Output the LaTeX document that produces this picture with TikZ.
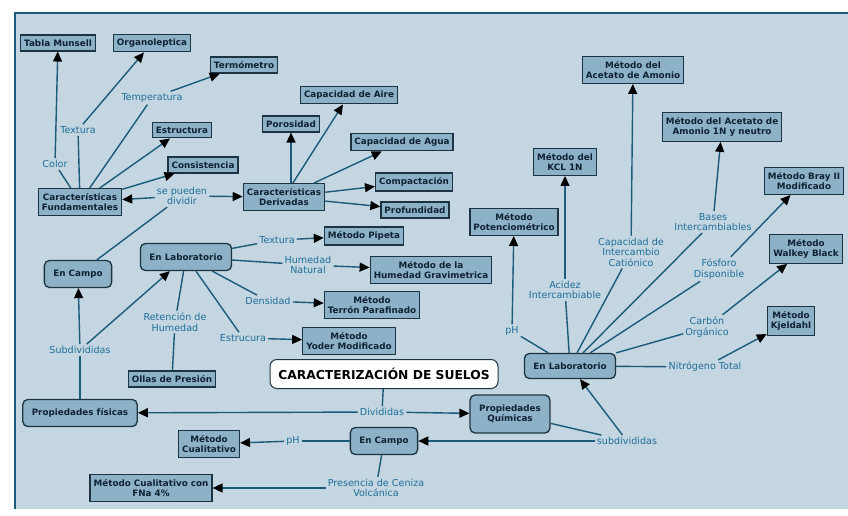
\documentclass[tikz,border=0pt]{standalone}
\usepackage{fontspec}
\setmainfont{DejaVu Sans}
\usetikzlibrary{arrows.meta}
\definecolor{fondo}{HTML}{C4D6E1}
\definecolor{cajafill}{HTML}{8DB1C6}
\definecolor{borde}{HTML}{1C3442}
\definecolor{enlace}{HTML}{1F6E98}
\definecolor{linea}{HTML}{1B5A78}
\definecolor{textocaja}{HTML}{0F2233}
\begin{document}
\begin{tikzpicture}[x=1pt, y=-1pt]
      \tikzstyle{every node}=[inner sep=2pt, align=center, text=enlace,
        font=\fontsize{9.6}{10.5}\selectfont]
      \tikzstyle{caja}=[draw=borde, line width=1.3pt, fill=cajafill, text=textocaja,
        inner xsep=3.5pt, inner ysep=4.5pt, font=\fontsize{8.8}{10.5}\selectfont\bfseries]
      \tikzstyle{redonda}=[caja, rounded corners=5pt, minimum height=27pt, inner xsep=9pt]
      \tikzstyle{con}=[draw=linea, line width=1.4pt]
      \tikzstyle{flecha}=[con, -{Triangle[length=10pt, width=9pt, color=black]}]

      % fondo
      \useasboundingbox (0,0) rectangle (848,516);
      \fill[white] (0,0) rectangle (848,516);
      \fill[fondo] (15,13) rectangle (848,509);
      \draw[linea, line width=2pt] (15,509) -- (15,13) -- (848,13);

      % caracteristicas fundamentales
      \path (58,43) node[caja] (munsell) {Tabla Munsell};
      \path (152,43) node[caja] (organo) {Organoleptica};
      \path (244,65) node[caja] (termo) {Termómetro};
      \path (182,130) node[caja] (estruc) {Estructura};
      \path (203,165) node[caja] (consis) {Consistencia};
      \path (80,202) node[caja] (fund) {Características\\Fundamentales};
      \path (55,164) node (color) {Color};
      \path (78,130) node (textura) {Textura};
      \path (152,98) node (temp) {Temperatura};
      \path (182,196) node (dividir) {se pueden\\dividir};

      % caracteristicas derivadas
      \path (284,197) node[caja] (deriv) {Características\\Derivadas};
      \path (291,124) node[caja] (poro) {Porosidad};
      \path (349,95) node[caja] (aire) {Capacidad de Aire};
      \path (402,142) node[caja] (agua) {Capacidad de Agua};
      \path (414,182) node[caja] (compac) {Compactación};
      \path (415,210) node[caja] (prof) {Profundidad};

      % propiedades fisicas
      \path (78,274) node[redonda] (campoA) {En Campo};
      \path (186,257) node[redonda] (labA) {En Laboratorio};
      \path (80,350) node (subdA) {Subdivididas};
      \path (175,322) node (reten) {Retención de\\Humedad};
      \path (172,379) node[caja] (ollas) {Ollas de Presión};
      \path (277,240) node (texB) {Textura};
      \path (364,236) node[caja] (pipeta) {Método Pipeta};
      \path (308,265) node (humnat) {Humedad\\Natural};
      \path (431,270) node[caja] (gravi) {Método de la\\Humedad Gravimetrica};
      \path (268,301) node (dens) {Densidad};
      \path (372,305) node[caja] (terron) {Método\\Terrón Parafinado};
      \path (243,338) node (estrucB) {Estrucura};
      \path (349,341) node[caja] (yoder) {Método\\Yoder Modificado};

      % centro
      \path (384,374) node[draw=borde, line width=1pt, fill=white, rounded corners=7pt,
        text=black, minimum height=29pt, minimum width=228pt, inner xsep=5pt,
        font=\fontsize{12.3}{14}\selectfont\bfseries] (titulo) {CARACTERIZACIÓN DE SUELOS};
      \path (80,413) node[redonda] (fisicas) {Propiedades físicas};
      \path (382,412) node (divid) {Divididas};
      \path (510,414) node[redonda, minimum height=38pt] (quimicas) {Propiedades\\Químicas};
      \path (627,441) node (subdB) {subdivididas};
      \path (384,441) node[redonda] (campoB) {En Campo};
      \path (293,441) node (phB) {pH};
      \path (209,444) node[caja] (cualit) {Método\\Cualitativo};
      \path (376,488) node (ceniza) {Presencia de Ceniza\\Volcánica};
      \path (151,488) node[caja] (fna) {Método Cualitativo con\\FNa 4\%};

      % propiedades quimicas
      \path (633,70) node[caja] (acetato) {Método del\\Acetato de Amonio};
      \path (722,127) node[caja] (neutro) {Método del Acetato de\\Amonio 1N y neutro};
      \path (565,162) node[caja] (kcl) {Método del\\KCL 1N};
      \path (804,181) node[caja] (bray) {Método Bray II\\Modificado};
      \path (514,222) node[caja] (potenc) {Método\\Potenciométrico};
      \path (806,249) node[caja] (walkey) {Método\\Walkey Black};
      \path (791,321) node[caja] (kjeldahl) {Método\\Kjeldahl};
      \path (570,366) node[redonda, minimum height=25pt] (labB) {En Laboratorio};
      \path (512,331) node (phC) {pH};
      \path (565,290) node (acidez) {Acidez\\Intercambiable};
      \path (631,252) node (cic) {Capacidad de\\Intercambio\\Catiónico};
      \path (713,222) node (bases) {Bases\\Intercambiables};
      \path (719,269) node (fosforo) {Fósforo\\Disponible};
      \path (707,327) node (carbon) {Carbón\\Orgánico};
      \path (705,367) node (nitro) {Nitrógeno Total};

      % enlaces con etiqueta
      \foreach \de/\por/\a in {fund/color/munsell, fund/textura/organo, fund/temp/termo,
        labA/texB/pipeta, labA/humnat/gravi, labA/dens/terron, labA/estrucB/yoder,
        campoB/phB/cualit, campoB/ceniza/fna, labB/phC/potenc, labB/acidez/kcl,
        labB/cic/acetato, labB/bases/neutro, labB/fosforo/bray, labB/carbon/walkey,
        labB/nitro/kjeldahl}
      {
        \draw [con] (\de) -- (\por);
        \draw [flecha] (\por) -- (\a);
      }

      % flechas directas
      \foreach \de/\a in {fund/estruc, fund/consis, dividir/fund, dividir/deriv,
        deriv/aire, deriv/agua, deriv/compac, deriv/prof, subdA/campoA, subdA/labA,
        divid/fisicas, divid/quimicas, subdB/campoB, subdB/labB}
      {
        \draw [flecha] (\de) -- (\a);
      }
      \draw [flecha] (poro.south |- deriv.north) -- (poro.south);

      % lineas sin flecha
      \draw [con] (dividir) -- (campoA);
      \draw [con] (labA) -- (reten);
      \draw [con] (reten) -- (ollas);
      \draw [con] (fisicas) -- (subdA);
      \draw [con] (titulo) -- (divid);
      \draw [con] (quimicas) -- (subdB);
\end{tikzpicture}
\end{document}
